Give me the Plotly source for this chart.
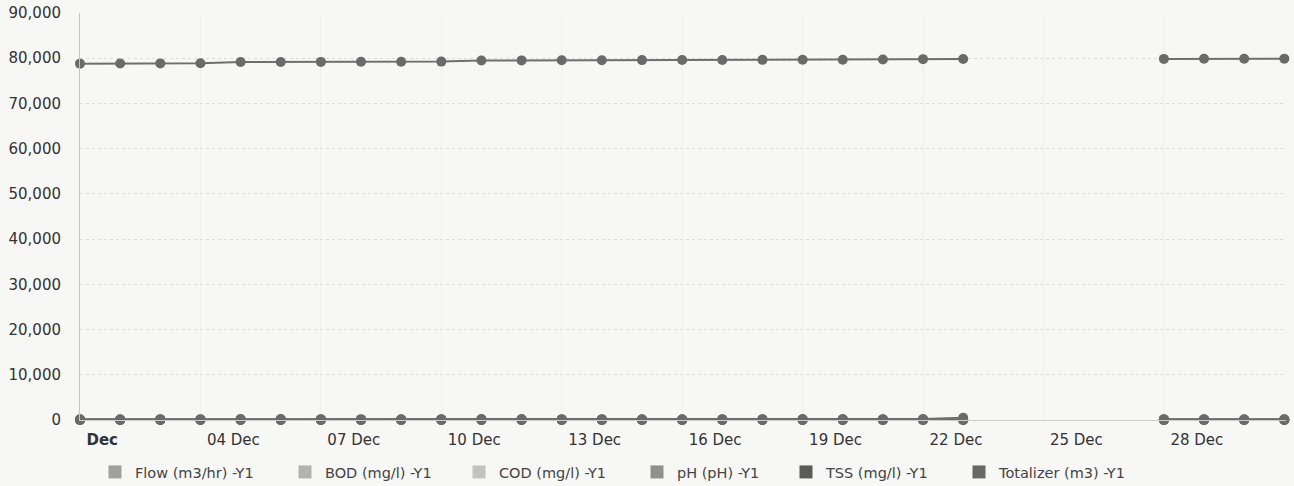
import plotly.graph_objects as go

dates = [f"2023-12-{d:02d}" for d in range(1, 32)]

N = None
totalizer = [78800, 78830, 78860, 78890, 79150, 79170, 79190, 79210, 79230, 79250,
             79500, 79520, 79540, 79560, 79580, 79600, 79620, 79640, 79660, 79680,
             79700, 79800, 79820, N, N, N, N, 79850, 79870, 79890, 79910]
flow = [180, 175, 190, 185, 200, 195, 190, 185, 180, 190,
        195, 200, 185, 190, 180, 175, 185, 190, 195, 200,
        190, 210, 480, N, N, N, N, 190, 185, 180, 175]
bod = [22, 20, 24, 21, 23, 25, 22, 20, 21, 23,
       24, 22, 20, 21, 22, 23, 24, 22, 21, 20,
       22, 23, 24, N, N, N, N, 21, 22, 20, 23]
cod = [85, 80, 90, 82, 88, 92, 86, 80, 84, 89,
       91, 87, 82, 85, 88, 90, 92, 86, 84, 80,
       86, 88, 90, N, N, N, N, 84, 86, 82, 88]
ph = [7.2, 7.1, 7.3, 7.2, 7.2, 7.4, 7.3, 7.1, 7.2, 7.3,
      7.2, 7.1, 7.2, 7.3, 7.2, 7.2, 7.3, 7.1, 7.2, 7.2,
      7.3, 7.2, 7.1, N, N, N, N, 7.2, 7.3, 7.2, 7.1]
tss = [32, 30, 34, 31, 33, 35, 32, 30, 31, 33,
       34, 32, 30, 31, 32, 33, 34, 32, 31, 30,
       32, 33, 34, N, N, N, N, 31, 32, 30, 33]

series_names = ["Flow (m3/hr) -Y1", "BOD (mg/l) -Y1", "COD (mg/l) -Y1",
                "pH (pH) -Y1", "TSS (mg/l) -Y1", "Totalizer (m3) -Y1"]
series_values = [flow, bod, cod, ph, tss, totalizer]
series_colors = ["#a0a0a0", "#b2b2b2", "#c2c2c2", "#909090", "#5a5a5a", "#686868"]
legend_px = [95, 285, 459, 637, 786, 959]

tick_dates = ["2023-12-01", "2023-12-04", "2023-12-07", "2023-12-10", "2023-12-13",
              "2023-12-16", "2023-12-19", "2023-12-22", "2023-12-25", "2023-12-28"]
tick_labels = ["<b>Dec</b>", "04 Dec", "07 Dec", "10 Dec", "13 Dec",
               "16 Dec", "19 Dec", "22 Dec", "25 Dec", "28 Dec"]

FONT = "DejaVu Sans"
fig = go.Figure()

for name, vals, col in zip(series_names, series_values, series_colors):
    fig.add_trace(go.Scatter(
        x=dates, y=vals, mode="lines+markers", name=name, showlegend=False,
        line=dict(color="#6e6e6e", width=2),
        marker=dict(color="#6a6a6a", size=10, symbol="circle"),
        cliponaxis=False, connectgaps=False,
    ))

layout_legends = {}
for i, (name, col, px) in enumerate(zip(series_names, series_colors, legend_px)):
    key = "legend" if i == 0 else f"legend{i+1}"
    fig.add_trace(go.Scatter(
        x=[None], y=[None], mode="markers", name=name, legend=key,
        marker=dict(color=col, size=13, symbol="square"),
        showlegend=True,
    ))
    layout_legends[key] = dict(
        x=px / 1294, xref="container", xanchor="left",
        y=1 - 456 / 486, yref="container", yanchor="top",
        orientation="h", bgcolor="rgba(0,0,0,0)",
        font=dict(family=FONT, size=14.5, color="#444444"),
        itemwidth=30,
    )

fig.update_layout(
    width=1294, height=486,
    margin=dict(l=80, r=8, t=13, b=66, autoexpand=False),
    paper_bgcolor="#f7f7f6", plot_bgcolor="#f7f7f6",
    font=dict(family=FONT, size=15, color="#333333"),
    **layout_legends,
)

fig.update_xaxes(
    type="date", automargin=False,
    range=["2023-12-01 00:00", "2023-12-31 01:00"],
    tickvals=tick_dates, ticktext=tick_labels,
    ticklabelposition="outside right", ticklabelshift=6,
    ticklabelstandoff=6,
    showgrid=True, gridcolor="#efefef", gridwidth=1,
    showline=True, linecolor="#cccccc", linewidth=1,
    ticks="", zeroline=False,
    tickfont=dict(family=FONT, size=15, color="#333333"),
)
fig.update_yaxes(
    automargin=False,
    range=[0, 90000], dtick=10000, tickformat=",",
    showgrid=True, gridcolor="#dcdcdc", griddash="dot", gridwidth=1,
    showline=True, linecolor="#c4c4c4", linewidth=1,
    ticks="", zeroline=False, ticklabelstandoff=15,
    tickfont=dict(family=FONT, size=15, color="#333333"),
)

fig.write_html(
    "out.html",
    config={"displayModeBar": False},
    post_script="document.body.style.margin='0px';document.body.style.overflow='hidden';",
)
